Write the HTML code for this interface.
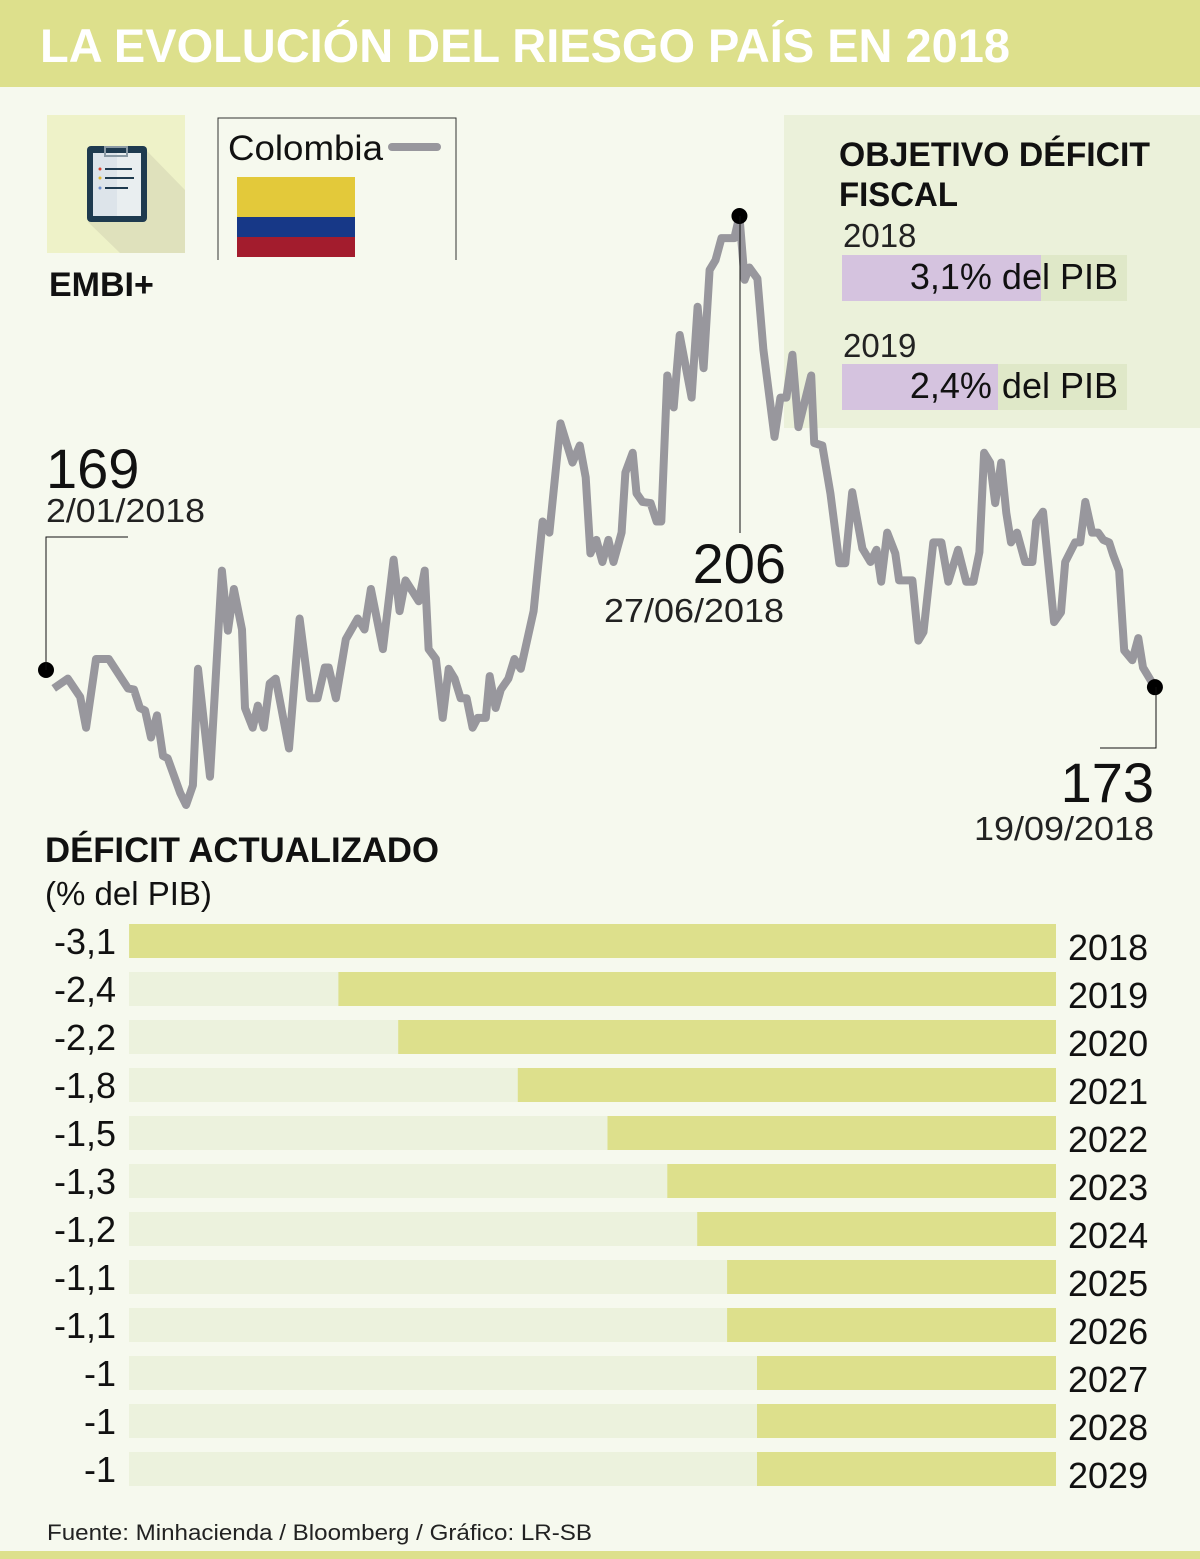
<!DOCTYPE html>
<html><head><meta charset="utf-8">
<style>
html,body{margin:0;padding:0;background:#f6f9ee;}
svg{display:block;font-family:"Liberation Sans",sans-serif;}
</style></head>
<body>
<svg id="chart" width="1200" height="1559" viewBox="0 0 1200 1559" xmlns="http://www.w3.org/2000/svg">
<rect x="0" y="0" width="1200" height="1559" fill="#f6f9ee"/>
<rect x="0" y="0" width="1200" height="87" fill="#dde08c"/>
<text x="40" y="62" font-size="47" font-weight="bold" fill="#ffffff" textLength="970" lengthAdjust="spacingAndGlyphs">LA EVOLUCIÓN DEL RIESGO PAÍS EN 2018</text>

<g>
<rect x="47" y="115" width="138" height="138" fill="#eef2c8"/>
<polygon points="146,150 185,190 185,253 120,253 88,222" fill="#dfe1bc"/>
<rect x="87" y="146" width="60" height="76" rx="4" fill="#1e3a4f"/>
<rect x="93" y="153" width="48" height="63" fill="#e9eef0"/>
<rect x="93" y="153" width="24" height="63" fill="#dde4ea"/>
<rect x="105" y="147" width="22" height="9" fill="none" stroke="#8a9aa5" stroke-width="2"/>
<line x1="105" y1="169" x2="132" y2="169" stroke="#1e3a4f" stroke-width="2"/>
<line x1="105" y1="178" x2="134" y2="178" stroke="#1e3a4f" stroke-width="2"/>
<line x1="105" y1="188" x2="128" y2="188" stroke="#1e3a4f" stroke-width="2"/>
<circle cx="100" cy="169" r="1.5" fill="#d9412f"/>
<circle cx="100" cy="178" r="1.5" fill="#e2b82a"/>
<circle cx="100" cy="188" r="1.5" fill="#6b8dd0"/>
</g>
<text x="49" y="296" font-size="34" font-weight="bold" fill="#111">EMBI+</text>

<g>
<polyline points="218,260 218,118 456,118 456,260" fill="none" stroke="#333" stroke-width="1"/>
<text x="228" y="160" font-size="35" fill="#111" textLength="155" lengthAdjust="spacingAndGlyphs">Colombia</text>
<line x1="392" y1="147" x2="437" y2="147" stroke="#98979d" stroke-width="8" stroke-linecap="round"/>
<rect x="237" y="177" width="118" height="40" fill="#e3c93a"/>
<rect x="237" y="217" width="118" height="20" fill="#173887"/>
<rect x="237" y="237" width="118" height="20" fill="#a31c2d"/>
</g>

<g>
<rect x="784" y="115" width="416" height="313" fill="#ebf1da"/>
<text x="839" y="166" font-size="34" font-weight="bold" fill="#111" textLength="311" lengthAdjust="spacingAndGlyphs">OBJETIVO DÉFICIT</text>
<text x="839" y="206" font-size="34" font-weight="bold" fill="#111" textLength="119" lengthAdjust="spacingAndGlyphs">FISCAL</text>
<text x="843" y="247" font-size="33" fill="#222">2018</text>
<rect x="842" y="255" width="285" height="46" fill="#dfe8c8"/>
<rect x="842" y="255" width="199" height="46" fill="#d5c3df"/>
<text x="1118" y="289" font-size="36" fill="#111" text-anchor="end">3,1% del PIB</text>
<text x="843" y="357" font-size="33" fill="#222">2019</text>
<rect x="842" y="364" width="285" height="46" fill="#dfe8c8"/>
<rect x="842" y="364" width="156" height="46" fill="#d5c3df"/>
<text x="1118" y="398" font-size="36" fill="#111" text-anchor="end">2,4% del PIB</text>
</g>

<g id="linegroup"></g>

<text x="46" y="488" font-size="56" fill="#111">169</text>
<text x="46" y="522" font-size="33" fill="#222" textLength="159" lengthAdjust="spacingAndGlyphs">2/01/2018</text>
<polyline points="128,537 46,537 46,670" fill="none" stroke="#111" stroke-width="1"/>
<line x1="740" y1="216" x2="740" y2="533" stroke="#111" stroke-width="1"/>
<text x="786" y="583" font-size="56" fill="#111" text-anchor="end">206</text>
<text x="604" y="622" font-size="33" fill="#222" textLength="180" lengthAdjust="spacingAndGlyphs">27/06/2018</text>
<polyline points="1156,687 1156,748 1100,748" fill="none" stroke="#111" stroke-width="1"/>
<text x="1154" y="802" font-size="56" fill="#111" text-anchor="end">173</text>
<text x="974" y="840" font-size="33" fill="#222" textLength="180" lengthAdjust="spacingAndGlyphs">19/09/2018</text>

<text x="45" y="862" font-size="35" font-weight="bold" fill="#111" textLength="394" lengthAdjust="spacingAndGlyphs">DÉFICIT ACTUALIZADO</text>
<text x="45" y="905" font-size="33" fill="#111">(% del PIB)</text>
<g id="bargroup"></g>

<text x="47" y="1540" font-size="22" fill="#222" textLength="545" lengthAdjust="spacingAndGlyphs">Fuente:  Minhacienda /  Bloomberg  / Gráfico: LR-SB</text>
<rect x="0" y="1551" width="1200" height="8" fill="#dde08c"/>
</svg>
<script>
const embiDays=[3.8,7.1,10.0,11.4,13.7,16.7,21.2,22.6,24.0,25.2,26.6,28.0,29.4,30.5,33.4,34.8,36.4,37.6,40.4,43.2,44.6,46.0,47.9,48.6,50.4,51.6,53.0,54.4,55.8,58.9,61.4,63.8,65.6,67.3,68.2,69.9,72.2,75.0,76.6,78.1,80.9,83.4,84.8,86.2,89.3,90.7,91.6,93.3,94.9,96.3,97.7,99.1,100.5,101.9,103.1,105.0,105.9,107.3,108.5,110.3,111.7,113.2,116.2,118.3,119.9,122.5,125.3,127.0,128.4,129.5,130.9,132.3,133.7,134.9,136.8,137.7,139.4,140.3,141.7,143.6,145.0,146.1,147.5,149.0,150.4,153.2,154.6,156.0,157.4,158.8,160.2,163.2,164.4,165.6,166.7,168.6,170.0,172.6,174.0,175.4,176.8,178.2,181.2,181.9,183.8,185.7,187.8,189.2,190.8,193.2,195.1,196.5,197.6,199.0,200.9,201.8,204.9,206.3,207.5,209.8,211.7,213.3,215.6,217.5,219.2,220.6,221.7,223.1,224.3,225.7,226.9,228.0,229.4,231.3,233.0,233.9,235.5,238.1,239.7,240.7,243.0,244.2,245.4,247.0,248.4,249.6,251.0,251.9,253.3,254.5,256.4,257.8,258.9,261.7];
const embiValues=[167.5,168.3,166.8,164.3,169.9,169.9,167.5,167.4,165.9,165.7,163.5,165.3,162.0,161.8,159.0,158.0,159.6,169.1,160.3,177.1,172.2,175.6,172.3,165.9,164.3,166.1,164.3,167.9,168.3,162.6,173.2,166.7,166.7,169.2,169.2,166.7,171.5,173.2,172.3,175.6,170.7,178.0,173.8,176.3,174.6,177.1,170.7,169.9,165.1,169.1,168.3,166.7,166.7,164.3,165.1,165.1,168.5,165.9,167.4,168.3,169.9,169.1,173.8,181.1,180.2,189.1,185.9,187.3,184.7,178.5,179.6,177.8,179.6,177.8,180.2,185.1,186.7,183.4,182.7,182.6,181.1,181.1,193.0,190.4,196.3,191.2,198.6,193.6,201.6,202.4,204.2,204.2,206.0,200.8,201.8,200.9,195.1,188.0,191.2,191.2,194.7,188.8,193.0,187.5,187.3,183.4,177.7,177.7,183.5,178.9,177.8,178.8,176.2,180.2,178.5,176.3,176.3,171.4,172.1,179.4,179.4,176.2,178.8,176.2,176.2,178.6,186.7,185.9,182.6,185.9,181.8,179.4,180.2,177.8,177.8,181.1,181.9,172.9,173.7,177.8,179.4,179.4,182.7,180.2,180.2,179.6,179.4,178.4,177.1,170.6,169.8,171.6,169.2,167.6];
const markerDays=[2,164.4,261.7];
const markerValues=[169,206,167.6];
const deficitYears=["2018","2019","2020","2021","2022","2023","2024","2025","2026","2027","2028","2029"];
const deficitValues=[-3.1,-2.4,-2.2,-1.8,-1.5,-1.3,-1.2,-1.1,-1.1,-1,-1,-1];
const deficitLabels=["-3,1","-2,4","-2,2","-1,8","-1,5","-1,3","-1,2","-1,1","-1,1","-1","-1","-1"];

const NS="http://www.w3.org/2000/svg";
function xDay(d){return 46+(d-2)*4.27;}
function yVal(v){return 670-(v-169)*12.27;}
const lg=document.getElementById('linegroup');
const pl=document.createElementNS(NS,'polyline');
pl.setAttribute('points',embiDays.map((d,i)=>xDay(d).toFixed(1)+','+yVal(embiValues[i]).toFixed(1)).join(' '));
pl.setAttribute('fill','none');pl.setAttribute('stroke','#98979d');pl.setAttribute('stroke-width','8');pl.setAttribute('stroke-linejoin','round');


lg.appendChild(pl);
markerDays.forEach((d,i)=>{
 const c=document.createElementNS(NS,'circle');
 c.setAttribute('cx',xDay(d));c.setAttribute('cy',yVal(markerValues[i]));c.setAttribute('r','8');c.setAttribute('fill','#000');
 
 
 lg.appendChild(c);
});
function xDef(v){return 1056-Math.abs(v)*299;}
const bg=document.getElementById('bargroup');
deficitValues.forEach((v,i)=>{
 const top=924+i*48;
 const r=document.createElementNS(NS,'rect');
 r.setAttribute('x',129);r.setAttribute('y',top);r.setAttribute('width',927);r.setAttribute('height',34);r.setAttribute('fill','#ecf2dd');
 
 
 bg.appendChild(r);
 const b=document.createElementNS(NS,'rect');
 b.setAttribute('x',xDef(v));b.setAttribute('y',top);b.setAttribute('width',1056-xDef(v));b.setAttribute('height',34);b.setAttribute('fill','#dde08c');
 
 
 bg.appendChild(b);
 const t=document.createElementNS(NS,'text');
 t.setAttribute('x',116);t.setAttribute('y',top+30);t.setAttribute('font-size','36');t.setAttribute('text-anchor','end');t.setAttribute('fill','#111');
 t.textContent=deficitLabels[i];
 
 
 bg.appendChild(t);
 const y=document.createElementNS(NS,'text');
 y.setAttribute('x',1068);y.setAttribute('y',top+36);y.setAttribute('font-size','36');y.setAttribute('fill','#111');
 y.textContent=deficitYears[i];
 
 
 bg.appendChild(y);
});
</script>
</body></html>
